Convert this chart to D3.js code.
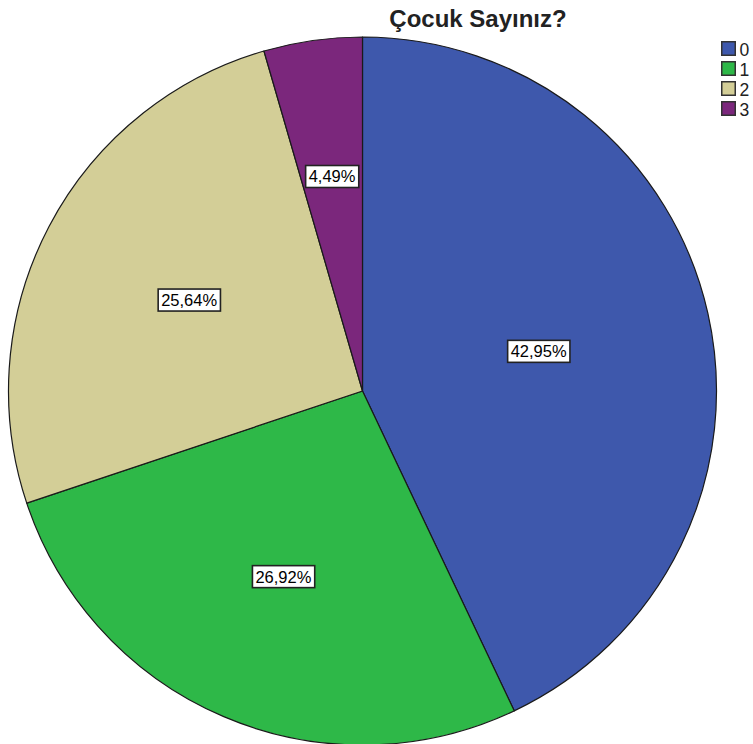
<!DOCTYPE html>
<html><head><meta charset="utf-8">
<script src="https://cdn.jsdelivr.net/npm/d3@7"></script>
<style>body{margin:0;background:#fff}svg{display:block}</style>
</head><body>
<svg id="c" width="753" height="744"></svg>
<script>
const title = "Çocuk Sayınız?";
const categories = ["0", "1", "2", "3"];
const values = [42.95, 26.92, 25.64, 4.49];
const labels = ["42,95%", "26,92%", "25,64%", "4,49%"];
const colors = ["#3E58AC", "#2EB848", "#D3CE97", "#7B277C"];
const labelRadiusFrac = [0.51, 0.57, 0.553, 0.612];

const svg = d3.select("#c");
const cx = 362.5, cy = 391, R = 354;
const font = "Liberation Sans, Arial, sans-serif";

const pie = d3.pie().sort(null).value(d => d)(values);
const arc = d3.arc().innerRadius(0).outerRadius(R);
const g = svg.append("g").attr("transform", `translate(${cx},${cy})`);
g.selectAll("path").data(pie).join("path")
  .attr("d", arc)
  .attr("fill", (d, i) => colors[i])
  .attr("stroke", "#1a1a1a").attr("stroke-width", 1.2).attr("stroke-linejoin", "round");

// labels
pie.forEach((d, i) => {
  const a = (d.startAngle + d.endAngle) / 2;
  const r = R * labelRadiusFrac[i];
  const x = r * Math.sin(a), y = -r * Math.cos(a);
  const lg = g.append("g").attr("transform", `translate(${x},${y})`);
  const t = lg.append("text").text(labels[i])
    .attr("text-anchor", "middle").attr("dy", "0.36em")
    .attr("font-family", font).attr("font-size", 16.5).attr("fill", "#000");
  const bb = t.node().getBBox();
  lg.insert("rect", "text")
    .attr("x", bb.x - 3).attr("y", -11).attr("width", bb.width + 6).attr("height", 22)
    .attr("fill", "#fff").attr("stroke", "#222").attr("stroke-width", 1.6);
});

// title
svg.append("text").text(title).attr("x", 478).attr("y", 27)
  .attr("text-anchor", "middle").attr("font-family", font)
  .attr("font-weight", "bold").attr("font-size", 24).attr("fill", "#222");

// legend
const leg = svg.append("g").attr("transform", "translate(721,41)");
categories.forEach((c, i) => {
  const row = leg.append("g").attr("transform", `translate(0,${i * 20})`);
  row.append("rect").attr("x", 0.75).attr("y", 0.75).attr("width", 13.5).attr("height", 13.5)
    .attr("fill", colors[i]).attr("stroke", "#333").attr("stroke-width", 1.5);
  row.append("text").text(c).attr("x", 18.5).attr("y", 14.5)
    .attr("font-family", font).attr("font-size", 17.5).attr("fill", "#222");
});
</script>
</body></html>
